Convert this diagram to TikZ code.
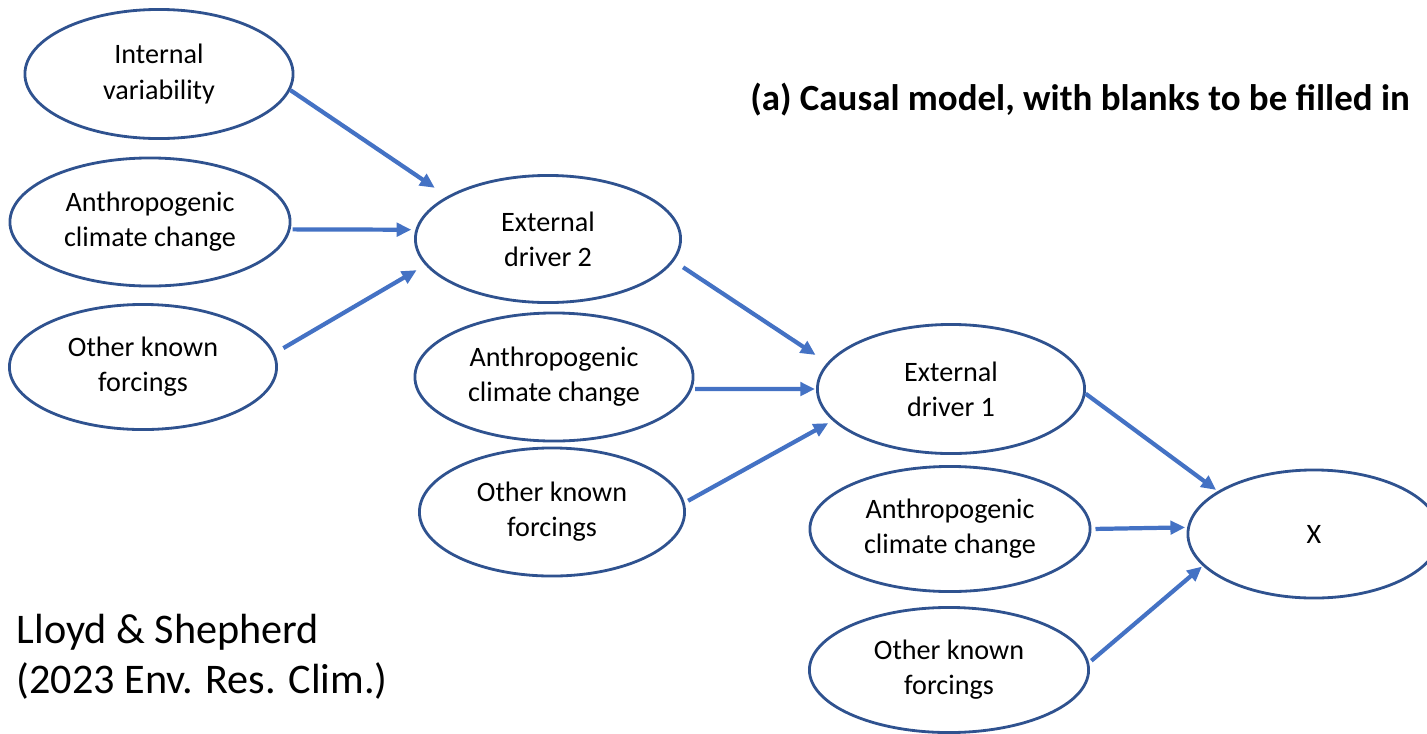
\documentclass[tikz,border=0pt]{standalone}
\usepackage{fontspec}
\setmainfont{Carlito}
\usetikzlibrary{shapes.geometric,arrows.meta}
\definecolor{ovalblue}{HTML}{2F528F}
\definecolor{arrowblue}{HTML}{4472C4}

\begin{document}
\begin{tikzpicture}[x=0.01cm,y=-0.01cm,
  oval/.style={ellipse,draw=ovalblue,line width=0.8pt,inner sep=0pt,align=center,font=\fontsize{8}{10}\selectfont},
  link/.style={draw=arrowblue,line width=1.2pt,-{Triangle[length=4.2pt,width=3.8pt]}}]
  \clip (0,0) rectangle (1427,733);
  % left column
  \node[oval,minimum width=2.68cm,minimum height=1.29cm] (intvar) at (159,74) {Internal\\variability};
  \node[oval,minimum width=2.80cm,minimum height=1.28cm] (anthro2) at (150,222) {Anthropogenic\\climate change};
  \node[oval,minimum width=2.67cm,minimum height=1.25cm] (other2) at (143,367) {Other known\\forcings};
  % middle column
  \node[oval,minimum width=2.65cm,minimum height=1.27cm] (drv2) at (548,239) {External\\driver 2};
  \node[oval,minimum width=2.78cm,minimum height=1.28cm] (anthro1) at (554,377) {Anthropogenic\\climate change};
  \node[oval,minimum width=2.65cm,minimum height=1.28cm] (other1) at (552,512) {Other known\\forcings};
  % right column
  \node[oval,minimum width=2.67cm,minimum height=1.29cm] (drv1) at (951,389) {External\\driver 1};
  \node[oval,minimum width=2.80cm,minimum height=1.25cm] (anthrox) at (950,529) {Anthropogenic\\climate change};
  \node[oval,minimum width=2.79cm,minimum height=1.25cm] (otherx) at (949,670) {Other known\\forcings};
  \node[oval,minimum width=2.52cm,minimum height=1.28cm] (xnode) at (1314,534) {X};

  \node[anchor=base,inner sep=0pt,font=\fontsize{10.5}{12}\selectfont\bfseries] (title) at (1080,110) {(a) Causal model, with blanks to be filled in};
  \node[anchor=base west,inner sep=0pt,align=left,font=\fontsize{12}{14.2}\selectfont] (cite) at (16,693) {Lloyd \& Shepherd\\(2023 Env. Res. Clim.)};

  \draw[link,shorten >=0.15cm] (intvar.-7) -- (drv2.157);
  \draw[link,shorten <=0.02cm,shorten >=0.04cm] (anthro2.-3) -- (drv2.176);
  \draw[link,shorten <=0.1cm,shorten >=0.1cm] (other2.6) -- (drv2.-168);
  \draw[link,shorten <=0.11cm,shorten >=0.14cm] (drv2.-10) -- (drv1.168);
  \draw[link,shorten <=0.03cm,shorten >=0.01cm] (anthro1.-5) -- (drv1.180);
  \draw[link,shorten <=0.04cm,shorten >=0.05cm] (other1.4) -- (drv1.-165);
  \draw[link,shorten >=0.02cm] (drv1.-2) -- (xnode.156);
  \draw[link,shorten <=0.04cm,shorten >=0.02cm] (anthrox.0) -- (xnode.177);
  \draw[link,shorten <=0.03cm,shorten >=0.01cm] (otherx.3) -- (xnode.-164);
\end{tikzpicture}
\end{document}
